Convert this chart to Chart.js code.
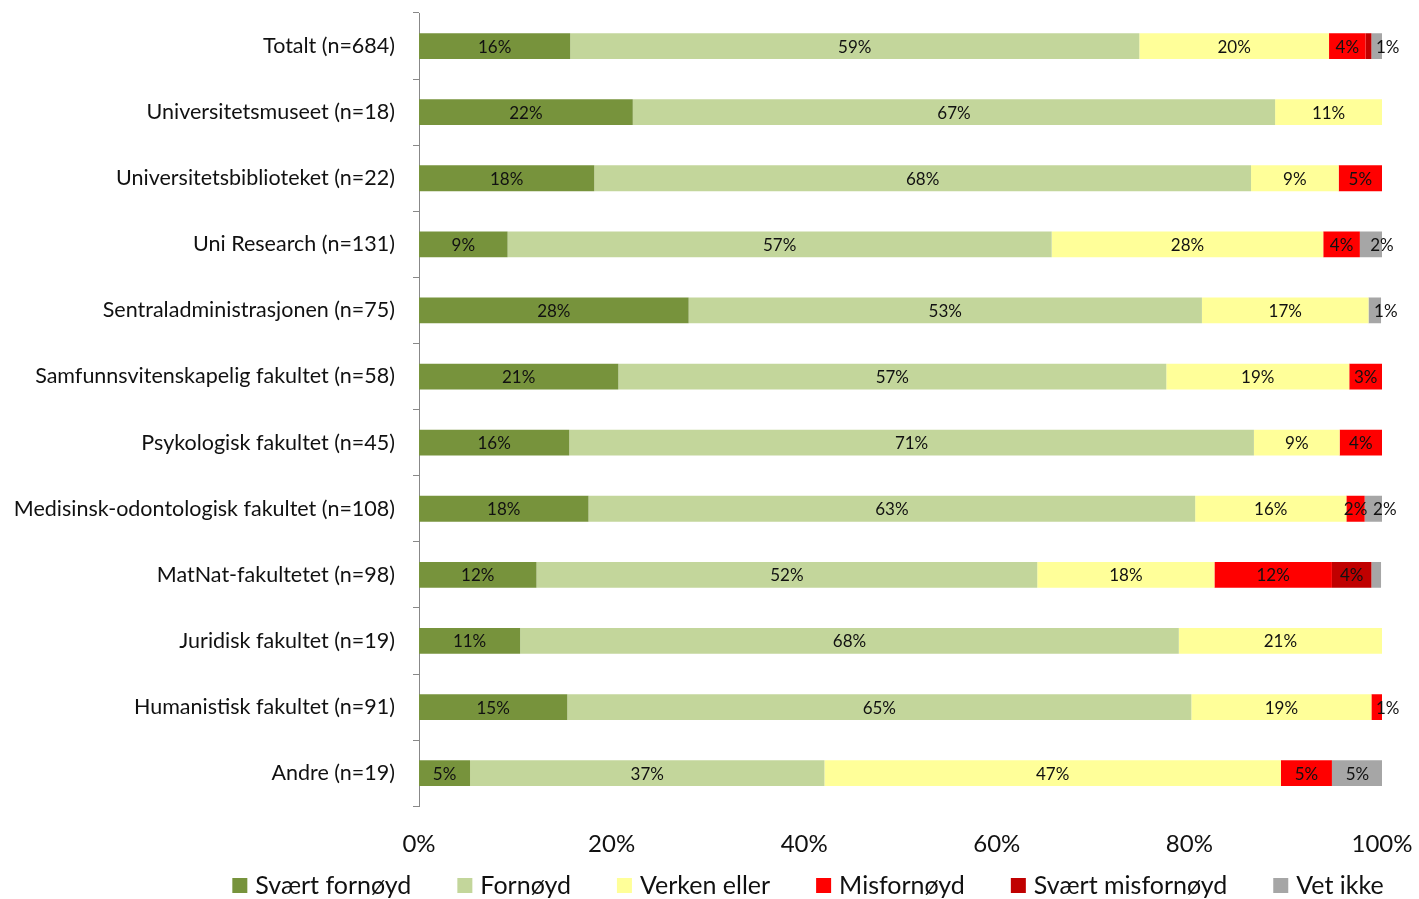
<!DOCTYPE html>
<html>
<head>
<meta charset="utf-8">
<script src="https://cdn.jsdelivr.net/npm/chart.js@4"></script>
<style>
  html, body { margin: 0; padding: 0; background: #fff; }
  #wrap { width: 1419px; height: 899px; }
</style>
</head>
<body>
<div id="wrap"><canvas id="myChart" width="1419" height="899"></canvas></div>
<script>
// units in each group, expressed as percent of respondents
var units = [
    'Totalt (n=684)',
    'Universitetsmuseet (n=18)',
    'Universitetsbiblioteket (n=22)',
    'Uni Research (n=131)',
    'Sentraladministrasjonen (n=75)',
    'Samfunnsvitenskapelig fakultet (n=58)',
    'Psykologisk fakultet (n=45)',
    'Medisinsk-odontologisk fakultet (n=108)',
    'MatNat-fakultetet (n=98)',
    'Juridisk fakultet (n=19)',
    'Humanistisk fakultet (n=91)',
    'Andre (n=19)'
];
var svaertFornoyd    = [15.7, 22.2, 18.2,  9.2, 28.0, 20.7, 15.6, 17.6, 12.2, 10.5, 15.4,  5.3];
var fornoyd          = [59.1, 66.7, 68.2, 56.5, 53.3, 56.9, 71.1, 63.0, 52.0, 68.4, 64.8, 36.8];
var verkenEller      = [19.7, 11.1,  9.1, 28.2, 17.3, 19.0,  8.9, 15.7, 18.4, 21.1, 18.7, 47.4];
var misfornoyd       = [ 3.8,    0,  4.5,  3.8,    0,  3.4,  4.4,  1.9, 12.2,    0,  1.1,  5.3];
var svaertMisfornoyd = [ 0.6,    0,    0,    0,    0,    0,    0,    0,  4.1,    0,    0,    0];
var vetIkke          = [ 1.1,    0,    0,  2.3,  1.3,    0,    0,  1.9,  1.0,    0,    0,  5.3];
var xTicks = ['0%', '20%', '40%', '60%', '80%', '100%'];

var fontFam = 'Lato, "Open Sans", sans-serif';

// percent labels in the middle of every segment
var segmentLabels = {
    id: 'segmentLabels',
    afterDatasetsDraw: function(chart) {
        var c = chart.ctx;
        var n = chart.data.datasets.length;
        c.save();
        c.font = '17px ' + fontFam;
        c.fillStyle = '#111';
        c.textAlign = 'center';
        c.textBaseline = 'middle';
        chart.data.datasets.forEach(function(ds, i) {
            var meta = chart.getDatasetMeta(i);
            meta.data.forEach(function(bar, j) {
                var v = ds.data[j];
                if (!v || v < 1.05) return; // excel dropped the tiny ones
                var txt = Math.round(v) + '%';
                var x = (bar.x + bar.base) / 2;
                var last = true;
                for (var k = i + 1; k < n; k++) {
                    if (chart.data.datasets[k].data[j]) last = false;
                }
                if (last && c.measureText(txt).width > Math.abs(bar.x - bar.base)) x += 11;
                c.fillText(txt, x, bar.y + 1);
            });
        });
        c.restore();
    }
};

// legend drawn by hand so the spacing matches the excel one
var bottomLegend = {
    id: 'bottomLegend',
    afterDraw: function(chart) {
        var c = chart.ctx;
        var sets = chart.data.datasets;
        c.save();
        c.font = '25px ' + fontFam;
        c.textBaseline = 'middle';
        var box = 15, gap = 8, space = 46;
        var total = 0;
        sets.forEach(function(ds, i) {
            total += box + gap + c.measureText(ds.label).width + (i < sets.length - 1 ? space : 0);
        });
        var x = 808 - total / 2;
        var y = 886;
        sets.forEach(function(ds) {
            c.fillStyle = ds.backgroundColor;
            c.fillRect(x, y - 8, box, box);
            c.fillStyle = '#111';
            c.fillText(ds.label, x + box + gap, y);
            x += box + gap + c.measureText(ds.label).width + space;
        });
        c.restore();
    }
};

var ctx = document.getElementById('myChart').getContext('2d');
var myChart = new Chart(ctx, {
    type: 'bar',
    data: {
        labels: units,
        datasets: [
            { label: 'Svært fornøyd', data: svaertFornoyd, backgroundColor: '#77933C' },
            { label: 'Fornøyd', data: fornoyd, backgroundColor: '#C3D69B' },
            { label: 'Verken eller', data: verkenEller, backgroundColor: '#FFFF99' },
            { label: 'Misfornøyd', data: misfornoyd, backgroundColor: '#FF0000' },
            { label: 'Svært misfornøyd', data: svaertMisfornoyd, backgroundColor: '#C00000' },
            { label: 'Vet ikke', data: vetIkke, backgroundColor: '#A6A6A6' }
        ]
    },
    options: {
        responsive: false,
        animation: false,
        indexAxis: 'y',
        barPercentage: 0.39,
        categoryPercentage: 1,
        layout: { padding: { top: 13, right: 37, left: 0, bottom: 24 } },
        plugins: {
            tooltip: { enabled: false },
            legend: { display: false }
        },
        scales: {
            x: {
                stacked: true,
                min: 0,
                max: 100,
                afterFit: function(s) { s.paddingLeft = 0; s.paddingRight = 0; },
                grid: { display: false },
                border: { display: false },
                ticks: {
                    stepSize: 20,
                    padding: 16,
                    color: '#111',
                    font: { family: fontFam, size: 24 },
                    callback: function(v, i) { return xTicks[i]; }
                }
            },
            y: {
                stacked: true,
                afterFit: function(s) { s.width = 419; s.paddingTop = 0; s.paddingBottom = 0; },
                grid: {
                    offset: true,
                    drawOnChartArea: false,
                    tickLength: 6,
                    color: '#888'
                },
                border: { display: true, color: '#888' },
                ticks: {
                    padding: 18,
                    color: '#111',
                    font: { family: fontFam, size: 21.5 }
                }
            }
        }
    },
    plugins: [segmentLabels, bottomLegend]
});
</script>
</body>
</html>
